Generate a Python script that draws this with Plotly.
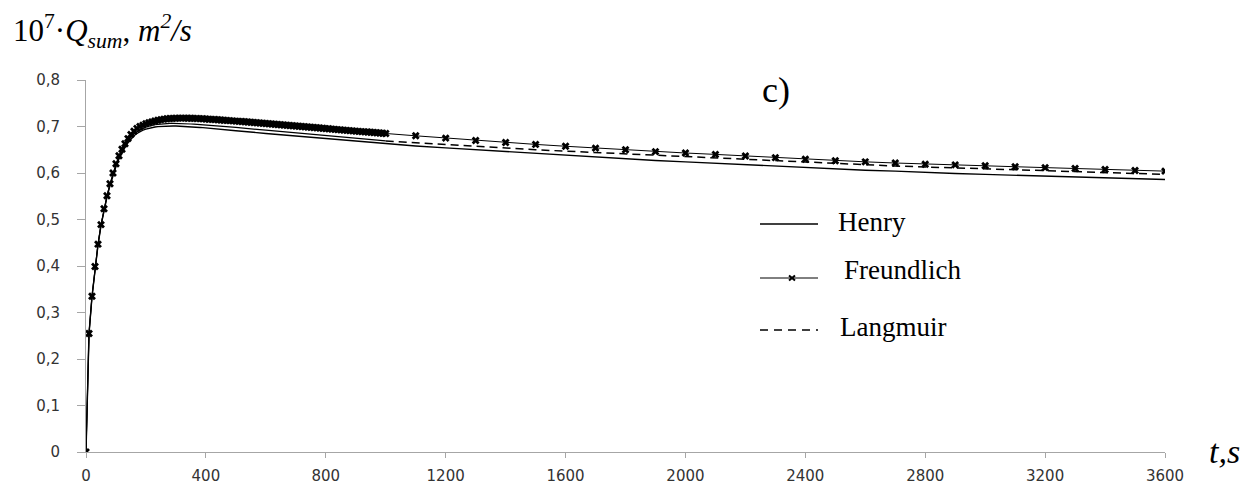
import plotly.graph_objects as go

# ---------------- data ----------------
t_freundlich = list(range(0, 1001, 10)) + list(range(1100, 3601, 100))
freundlich = [
    0.0, 0.255, 0.335, 0.399, 0.447, 0.489, 0.523, 0.551, 0.577, 0.600,
    0.620, 0.637, 0.651, 0.663, 0.674, 0.683, 0.690, 0.696, 0.700, 0.703,
    0.706, 0.708, 0.710, 0.712, 0.7135, 0.7148, 0.7158, 0.7166, 0.7171, 0.7175,
    0.7178, 0.7180, 0.7180, 0.7180, 0.7179, 0.7177, 0.7175, 0.7172, 0.7169, 0.7165,
    0.7161, 0.7157, 0.7153, 0.7149, 0.7145, 0.7140, 0.7135, 0.7131, 0.7126, 0.7121,
    0.7116, 0.7111, 0.7106, 0.7101, 0.7096, 0.7091, 0.7086, 0.7081, 0.7076, 0.7070,
    0.7065, 0.7060, 0.7054, 0.7049, 0.7043, 0.7038, 0.7032, 0.7027, 0.7021, 0.7016,
    0.7010, 0.7005, 0.6999, 0.6994, 0.6988, 0.6983, 0.6977, 0.6972, 0.6966, 0.6961,
    0.6955, 0.6950, 0.6944, 0.6939, 0.6933, 0.6928, 0.6922, 0.6917, 0.6911, 0.6906,
    0.6900, 0.6895, 0.6890, 0.6885, 0.6880, 0.6875, 0.6870, 0.6865, 0.6860, 0.6855,
    0.6850,
    0.680, 0.675, 0.670, 0.6655, 0.6615, 0.6575, 0.6535, 0.650, 0.646, 0.643,
    0.640, 0.6365, 0.633, 0.6295, 0.6265, 0.624, 0.6215, 0.619, 0.6175, 0.6155,
    0.6135, 0.6115, 0.6095, 0.6075, 0.6055, 0.604,
]

t_hl = list(range(0, 401, 10)) + list(range(500, 3601, 100))
henry = [
    0.0, 0.254, 0.334, 0.397, 0.445, 0.487, 0.520, 0.548, 0.573, 0.595,
    0.614, 0.630, 0.643, 0.655, 0.665, 0.673, 0.680, 0.685, 0.689, 0.692,
    0.6945, 0.6965, 0.698, 0.699, 0.6997, 0.7003, 0.7007, 0.7010, 0.7011, 0.7011,
    0.7010, 0.7008, 0.7005, 0.7002, 0.6998, 0.6994, 0.6990, 0.6985, 0.6980, 0.6975,
    0.6970,
    0.691, 0.685, 0.6795, 0.674, 0.668, 0.662,
    0.658, 0.654, 0.650, 0.646, 0.642, 0.638, 0.634, 0.630, 0.627, 0.624,
    0.621, 0.617, 0.614, 0.611, 0.608, 0.606, 0.604, 0.601, 0.599, 0.597,
    0.595, 0.593, 0.591, 0.589, 0.5875, 0.586,
]
langmuir = [
    0.0, 0.255, 0.334, 0.398, 0.446, 0.488, 0.522, 0.550, 0.575, 0.597,
    0.616, 0.633, 0.647, 0.659, 0.669, 0.677, 0.684, 0.689, 0.693, 0.696,
    0.699, 0.701, 0.7025, 0.7037, 0.7047, 0.7055, 0.7060, 0.7064, 0.7066, 0.7067,
    0.7067, 0.7066, 0.7064, 0.7061, 0.7058, 0.7054, 0.7050, 0.7046, 0.7042, 0.7037,
    0.7032,
    0.698, 0.692, 0.686, 0.680, 0.6745, 0.669,
    0.665, 0.661, 0.657, 0.654, 0.650, 0.647, 0.644, 0.641, 0.638, 0.635,
    0.632, 0.629, 0.626, 0.623, 0.620, 0.618, 0.615, 0.613, 0.611, 0.609,
    0.607, 0.605, 0.603, 0.601, 0.599, 0.597,
]

x_tick_vals = [0, 400, 800, 1200, 1600, 2000, 2400, 2800, 3200, 3600]
x_tick_text = ["0", "400", "800", "1200", "1600", "2000", "2400", "2800", "3200", "3600"]
y_tick_vals = [0, 0.1, 0.2, 0.3, 0.4, 0.5, 0.6, 0.7, 0.8]
y_tick_text = ["0", "0,1", "0,2", "0,3", "0,4", "0,5", "0,6", "0,7", "0,8"]
series_names = ["Henry", "Freundlich", "Langmuir"]

# ---------------- layout geometry (page pixels) ----------------
VIEW_W, VIEW_H = 1254, 486
OFF = 8  # default page body margin offsets the figure
PLOT_L, PLOT_R, PLOT_T, PLOT_B = 86, 1165, 80, 452   # plot area in page pixels
PW, PH = PLOT_R - PLOT_L, PLOT_B - PLOT_T
FIG_W, FIG_H = VIEW_W - OFF, VIEW_H - OFF
M_L = PLOT_L - OFF
M_T = PLOT_T - OFF
M_R = FIG_W - M_L - PW
M_B = FIG_H - M_T - PH


def fx(px):
    return (px - PLOT_L) / PW


def fy(py):
    return (PLOT_B - py) / PH


fig = go.Figure()

# Henry
fig.add_trace(go.Scatter(x=t_hl, y=henry, mode="lines", name=series_names[0],
                         line=dict(color="black", width=1.4), showlegend=False))

# Langmuir: dense part drawn solid (as dense points hide the dashes), rest dashed
split = [i for i, t in enumerate(t_hl) if t <= 1000]
k = split[-1] + 1
fig.add_trace(go.Scatter(x=t_hl[:k], y=langmuir[:k], mode="lines", name=series_names[2],
                         line=dict(color="black", width=1.2), showlegend=False))
fig.add_trace(go.Scatter(x=t_hl[k - 1:], y=langmuir[k - 1:], mode="lines", name=series_names[2],
                         line=dict(color="black", width=1.5, dash="8px,5px"), showlegend=False))

# Freundlich
fig.add_trace(go.Scatter(x=t_freundlich, y=freundlich, mode="lines+markers", name=series_names[1],
                         line=dict(color="black", width=1),
                         marker=dict(symbol="x", size=7, color="black", line=dict(width=0)),
                         showlegend=False))

serif = "Liberation Serif"
annotations = [
    dict(text="10<sup>7</sup>·<i>Q<sub>sum</sub></i>, <i>m<sup>2</sup>/s</i>",
         x=fx(11), y=fy(31), xanchor="left", yanchor="middle",
         font=dict(family=serif, size=31, color="black")),
    dict(text="c)", x=fx(776), y=fy(90), xanchor="center", yanchor="middle",
         font=dict(family=serif, size=36, color="black")),
    dict(text="<i>t,s</i>", x=fx(1207), y=fy(451), xanchor="left", yanchor="middle",
         font=dict(family=serif, size=34, color="black")),
    dict(text=series_names[0], x=fx(836), y=fy(222), xanchor="left", yanchor="middle",
         font=dict(family=serif, size=27, color="black")),
    dict(text=series_names[1], x=fx(842), y=fy(270), xanchor="left", yanchor="middle",
         font=dict(family=serif, size=27, color="black")),
    dict(text=series_names[2], x=fx(838), y=fy(327), xanchor="left", yanchor="middle",
         font=dict(family=serif, size=27, color="black")),
]
for a in annotations:
    a.update(xref="paper", yref="paper", showarrow=False)

shapes = [
    dict(type="line", x0=fx(760), x1=fx(818), y0=fy(224), y1=fy(224),
         line=dict(color="black", width=1.5)),
    dict(type="line", x0=fx(760), x1=fx(818), y0=fy(278), y1=fy(278),
         line=dict(color="black", width=1)),
    dict(type="line", x0=fx(789), x1=fx(795), y0=fy(275.5), y1=fy(280.5),
         line=dict(color="black", width=2)),
    dict(type="line", x0=fx(789), x1=fx(795), y0=fy(280.5), y1=fy(275.5),
         line=dict(color="black", width=2)),
    dict(type="line", x0=fx(760), x1=fx(818), y0=fy(330), y1=fy(330),
         line=dict(color="black", width=1.5, dash="8px,6px")),
]
for s in shapes:
    s.update(xref="paper", yref="paper")

axis_color = "#a6a6a6"
tick_font = dict(family="DejaVu Sans", size=15, color="#333333")

fig.update_layout(
    width=FIG_W, height=FIG_H,
    margin=dict(l=M_L, r=M_R, t=M_T, b=M_B, pad=0, autoexpand=False),
    paper_bgcolor="white", plot_bgcolor="white",
    showlegend=False,
    annotations=annotations,
    shapes=shapes,
    xaxis=dict(range=[0, 3600], tickmode="array", tickvals=x_tick_vals, ticktext=x_tick_text,
               showgrid=False, zeroline=False, showline=True, linecolor=axis_color, linewidth=1,
               ticks="outside", ticklen=5, tickcolor=axis_color, tickfont=tick_font,
               ticklabelstandoff=5, automargin=False),
    yaxis=dict(range=[0, 0.8], tickmode="array", tickvals=y_tick_vals, ticktext=y_tick_text,
               showgrid=False, zeroline=False, showline=True, linecolor=axis_color, linewidth=1,
               ticks="outside", ticklen=8, tickcolor=axis_color, tickfont=tick_font,
               ticklabelstandoff=14, automargin=False),
)

fig.write_html("out.html")
